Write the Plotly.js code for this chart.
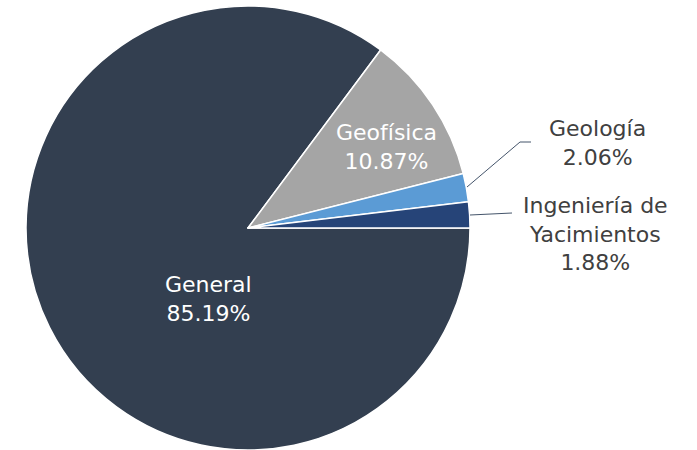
<!DOCTYPE html>
<html>
<head>
<meta charset="utf-8">
<script src="https://cdn.plot.ly/plotly-3.0.1.min.js"></script>
<style>html,body{margin:0;padding:0;background:#fff;}#chart{width:697px;height:450px;}</style>
</head>
<body>
<div id="chart"></div>
<script>
const labels = ["General", "Geofísica", "Geología", "Ingeniería de Yacimientos"];
const displayLabels = ["General", "Geofísica", "Geología", "Ingeniería de<br>Yacimientos"];
const values = [85.19, 10.87, 2.06, 1.88];
const colors = ["#333F50", "#A5A5A5", "#5B9BD5", "#264478"];

const W = 697, H = 450;
const px = x => x / W, py = y => 1 - y / H;

const labelPos = [[208, 299], [387, 147], [597, 143], [595, 234]];
const labelColor = ["#ffffff", "#ffffff", "#404040", "#404040"];

const annotations = labels.map((l, i) => ({
  xref: "paper", yref: "paper",
  x: px(labelPos[i][0]), y: py(labelPos[i][1]),
  xanchor: "center", yanchor: "middle",
  text: displayLabels[i] + "<br>" + values[i].toFixed(2) + "%",
  showarrow: false,
  font: {family: "DejaVu Sans", size: 22, color: labelColor[i]}
}));

const line = {color: "#44546A", width: 1};
const shapes = [
  {type: "path", xref: "paper", yref: "paper",
   path: `M ${px(467)} ${py(187)} L ${px(520)} ${py(142)} L ${px(531)} ${py(142)}`, line},
  {type: "path", xref: "paper", yref: "paper",
   path: `M ${px(470)} ${py(215)} L ${px(512)} ${py(213)}`, line}
];

const data = [{
  type: "pie",
  labels: labels,
  values: values,
  sort: false,
  direction: "clockwise",
  rotation: 90,
  textinfo: "none",
  hoverinfo: "label+percent",
  marker: {colors: colors, line: {color: "#ffffff", width: 1.5}},
  domain: {x: [px(26), px(470)], y: [py(450), py(6)]},
  showlegend: false
}];

const layout = {
  width: W, height: H,
  margin: {l: 0, r: 0, t: 0, b: 0},
  paper_bgcolor: "#ffffff",
  annotations: annotations,
  shapes: shapes,
  showlegend: false
};

Plotly.newPlot("chart", data, layout, {displayModeBar: false, staticPlot: true});
</script>
</body>
</html>
